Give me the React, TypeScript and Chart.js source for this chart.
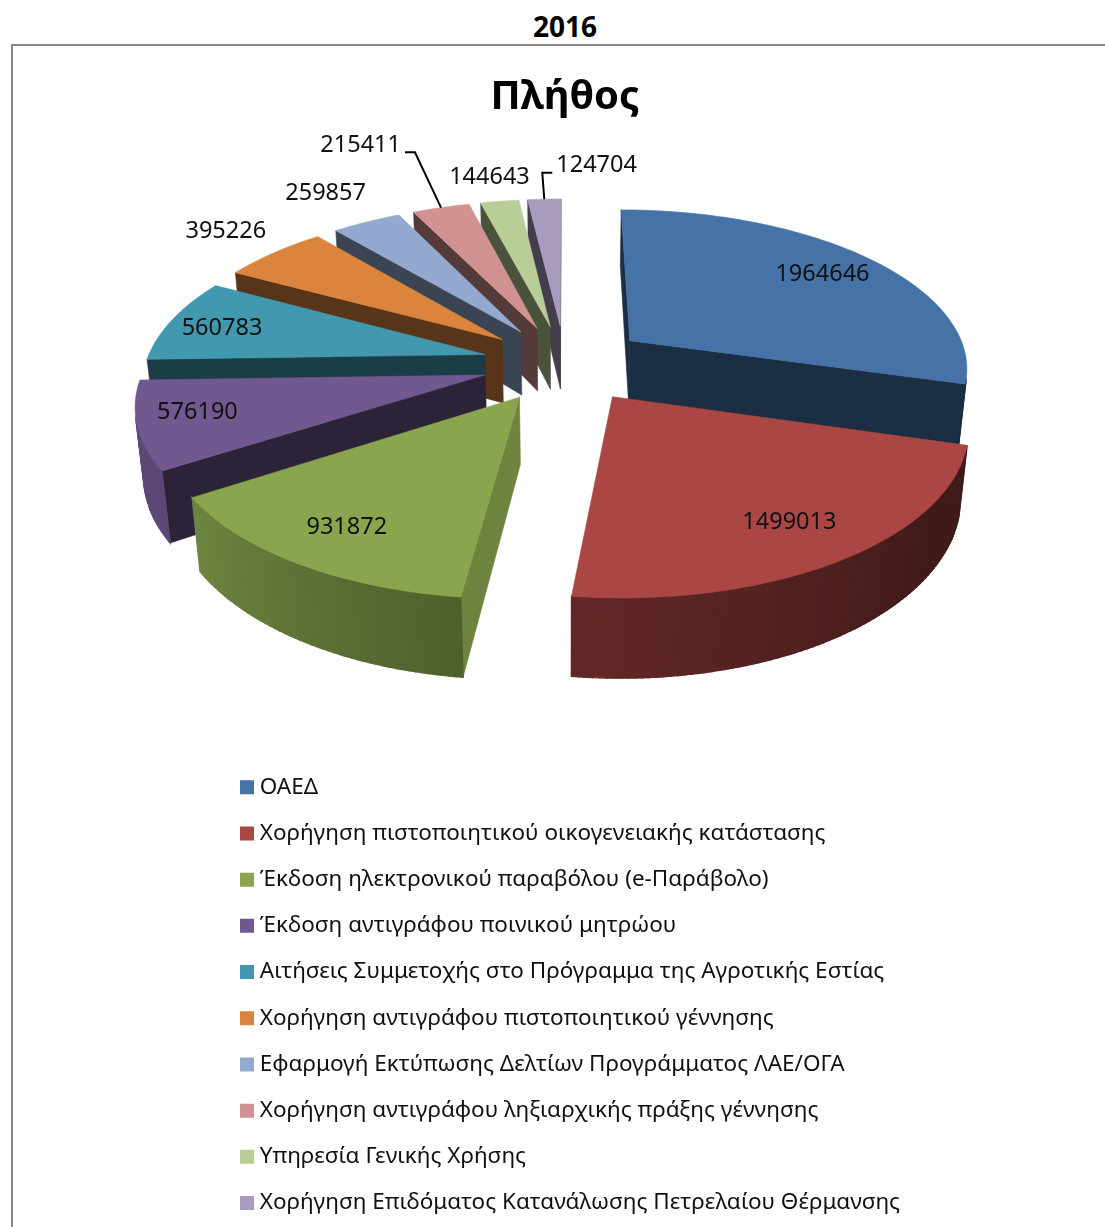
import React, { useEffect, useRef } from "react";
import { Chart, registerables } from "chart.js";

Chart.register(...registerables);

const categories = [
  "ΟΑΕΔ",
  "Χορήγηση πιστοποιητικού οικογενειακής κατάστασης",
  "Έκδοση ηλεκτρονικού παραβόλου (e-Παράβολο)",
  "Έκδοση αντιγράφου ποινικού μητρώου",
  "Αιτήσεις Συμμετοχής στο Πρόγραμμα της Αγροτικής Εστίας",
  "Χορήγηση αντιγράφου πιστοποιητικού γέννησης",
  "Εφαρμογή Εκτύπωσης Δελτίων Προγράμματος ΛΑΕ/ΟΓΑ",
  "Χορήγηση αντιγράφου ληξιαρχικής πράξης γέννησης",
  "Υπηρεσία Γενικής Χρήσης",
  "Χορήγηση Επιδόματος Κατανάλωσης Πετρελαίου Θέρμανσης",
];
const counts = [1964646, 1499013, 931872, 576190, 560783, 395226, 259857, 215411, 144643, 124704];
const sliceColors = ["#4572A7", "#AA4643", "#89A54E", "#71588F", "#4198AF", "#DB843D", "#93A9CF", "#D19392", "#B9CD96", "#A99BBD"];
const heading = "2016";
const chartTitle = "Πλήθος";

// label placement: distance from the slice tip (in radii) and angle offset from the bisector (deg)
const labelRadius = [0.8, 0.79, 0.8, 0.83, 0.83, 1.26, 1.31, 1.69, 1.24, 1.33];
const labelAngle = [0, 0, 0, 2, -1, 1, 0, -3.6, 0, 9];
const labelLeader = [false, false, false, false, false, false, false, true, false, true];

const FONT = '"Noto Sans"';
// 3-D view of the pie
const VIEW = { explode: 0.245, persp: 6.36, horizonY: -641, persB: 6388, cx: 565, kx: 339, thick: 65, conv: 3500 };
const CUT_SHADE = 0.4;

function shade(hex: string, f: number) {
  const n = parseInt(hex.slice(1), 16);
  const c = (v: number) => Math.round(v * f);
  return `rgb(${c((n >> 16) & 255)},${c((n >> 8) & 255)},${c(n & 255)})`;
}
function rimShade(deg: number) {
  if (deg <= 125) return 0.38;
  if (deg <= 187) return 0.38 + ((deg - 125) / 62) * 0.2;
  if (deg <= 240) return 0.58 + ((deg - 187) / 53) * 0.24;
  return 0.82;
}
function project(u: number, v: number) {
  const s = VIEW.persp / (VIEW.persp - v);
  return { x: VIEW.cx + VIEW.kx * u * s, y: VIEW.horizonY + VIEW.persB / (VIEW.persp - v), s };
}
function drop(p: { x: number; y: number; s: number }) {
  const h = VIEW.thick * p.s;
  return { x: p.x - ((p.x - VIEW.cx) * h) / VIEW.conv, y: p.y + h, s: p.s };
}
const dir = (rad: number) => ({ u: Math.sin(rad), v: -Math.cos(rad) });
function area(pts: { x: number; y: number }[]) {
  let a = 0;
  pts.forEach((p, k) => {
    const q = pts[(k + 1) % pts.length];
    a += p.x * q.y - q.x * p.y;
  });
  return a;
}

const pie3d = {
  id: "pie3d",
  afterLayout(chart: any) {
    const l = chart.legend;
    const pad = l.options.labels.padding;
    l.left = 245.5 - pad;
    l.right = chart.width;
    l.top = 776 - pad;
    l.bottom = chart.height + 200; // keeps all ten rows in one column
  },
  beforeDatasetDraw() {
    return false;
  },
  afterDatasetsDraw(chart: any) {
    const ctx = chart.ctx;
    const meta = chart.getDatasetMeta(0);
    const slices = meta.data.map((el: any, i: number) => {
      const start = el.startAngle + Math.PI / 2;
      const end = el.endAngle + Math.PI / 2;
      const mid = (start + end) / 2;
      const d = dir(mid);
      return { i, start, end, mid, tip: { u: d.u * VIEW.explode, v: d.v * VIEW.explode }, color: el.options.backgroundColor };
    });
    const order = [...slices].sort((a: any, b: any) => a.tip.v - b.tip.v);
    const fillPoly = (pts: any[], color: string, lw = 0.6) => {
      ctx.beginPath();
      pts.forEach((p, k) => (k ? ctx.lineTo(p.x, p.y) : ctx.moveTo(p.x, p.y)));
      ctx.closePath();
      ctx.fillStyle = color;
      ctx.strokeStyle = color;
      ctx.lineWidth = lw;
      ctx.fill();
      ctx.stroke();
    };
    const rimPt = (s: any, a: number) => {
      const d = dir(a);
      return project(s.tip.u + d.u, s.tip.v + d.v);
    };
    for (const s of order) {
      const tipP = project(s.tip.u, s.tip.v);
      const startP = rimPt(s, s.start);
      const endP = rimPt(s, s.end);
      const startDeg = (s.start * 180) / Math.PI;
      // the green slice shows a lit cut face, all the others a dark one
      const startShade = startDeg > 150 && startDeg < 210 ? 0.8 : CUT_SHADE;
      const startFace = [tipP, startP, drop(startP), drop(tipP)];
      const endFace = [tipP, endP, drop(endP), drop(tipP)];
      if (area(startFace) < 0) fillPoly(startFace, shade(s.color, startShade));
      if (area(endFace) > 0) fillPoly(endFace, shade(s.color, CUT_SHADE));
      const steps = Math.max(2, Math.ceil(((s.end - s.start) * 180) / Math.PI));
      const da = (s.end - s.start) / steps;
      for (let k = 0; k < steps; k++) {
        const a = s.start + k * da;
        const p0 = rimPt(s, a);
        const p1 = rimPt(s, a + da);
        const quad = [p0, p1, drop(p1), drop(p0)];
        if (area(quad) < 0) fillPoly(quad, shade(s.color, rimShade(((a + da / 2) * 180) / Math.PI)), 1.4);
      }
      const top = [tipP];
      for (let k = 0; k <= steps; k++) top.push(rimPt(s, s.start + k * da));
      fillPoly(top, s.color);
    }
    // data labels
    ctx.font = `23.5px ${FONT}`;
    ctx.textBaseline = "middle";
    ctx.textAlign = "center";
    for (const s of slices) {
      const a = s.mid + (labelAngle[s.i] * Math.PI) / 180;
      const d = dir(a);
      const r = labelRadius[s.i];
      const c = project(s.tip.u + d.u * r, s.tip.v + d.v * r);
      const text = String(chart.data.datasets[0].data[s.i]);
      const w = ctx.measureText(text).width;
      if (labelLeader[s.i]) {
        const rim = rimPt(s, s.mid);
        const side = rim.x > c.x ? 1 : -1;
        const ly = c.y + 8;
        ctx.beginPath();
        ctx.moveTo(rim.x, rim.y);
        ctx.lineTo(c.x + side * (w / 2 + 14), ly);
        ctx.lineTo(c.x + side * (w / 2 + 4), ly);
        ctx.strokeStyle = "#000";
        ctx.lineWidth = 2;
        ctx.stroke();
      }
      ctx.fillStyle = "#111";
      ctx.fillText(text, c.x, c.y + 1);
    }
  },
};

export default function App() {
  const ref = useRef<HTMLCanvasElement>(null);
  useEffect(() => {
    const chart = new Chart(ref.current as HTMLCanvasElement, {
      type: "pie",
      plugins: [pie3d],
      data: {
        labels: categories,
        datasets: [{ data: counts, backgroundColor: sliceColors, borderWidth: 0 }],
      },
      options: {
        responsive: false,
        animation: false,
        layout: { padding: { left: 25 } },
        plugins: {
          tooltip: { enabled: false },
          title: {
            display: true,
            text: chartTitle,
            color: "#000",
            font: { family: FONT, size: 40, weight: "bold", lineHeight: 1.2 },
            padding: { top: 74, bottom: 0 },
          },
          legend: {
            display: true,
            position: "left",
            align: "start",
            labels: {
              color: "#111",
              font: { family: FONT, size: 22.5 },
              padding: 23.7,
              usePointStyle: true,
              pointStyle: "rect",
              boxWidth: 3,
              boxHeight: 14,
            },
          },
        },
      },
    } as any);
    return () => chart.destroy();
  }, []);
  return (
    <div style={{ position: "absolute", left: 0, top: 0, width: 1105, height: 1227, overflow: "hidden", background: "#fff" }}>
      <div style={{ position: "absolute", left: 0, width: 1130, top: 7, textAlign: "center", font: `bold 28px ${FONT}`, color: "#000", lineHeight: "38px" }}>{heading}</div>
      <div style={{ position: "absolute", left: 11, top: 44, width: 1200, height: 1300, borderLeft: "2px solid #888", borderTop: "2px solid #888" }} />
      <canvas ref={ref} width={1105} height={1227} style={{ position: "absolute", left: 0, top: 0, display: "block" }} />
    </div>
  );
}
